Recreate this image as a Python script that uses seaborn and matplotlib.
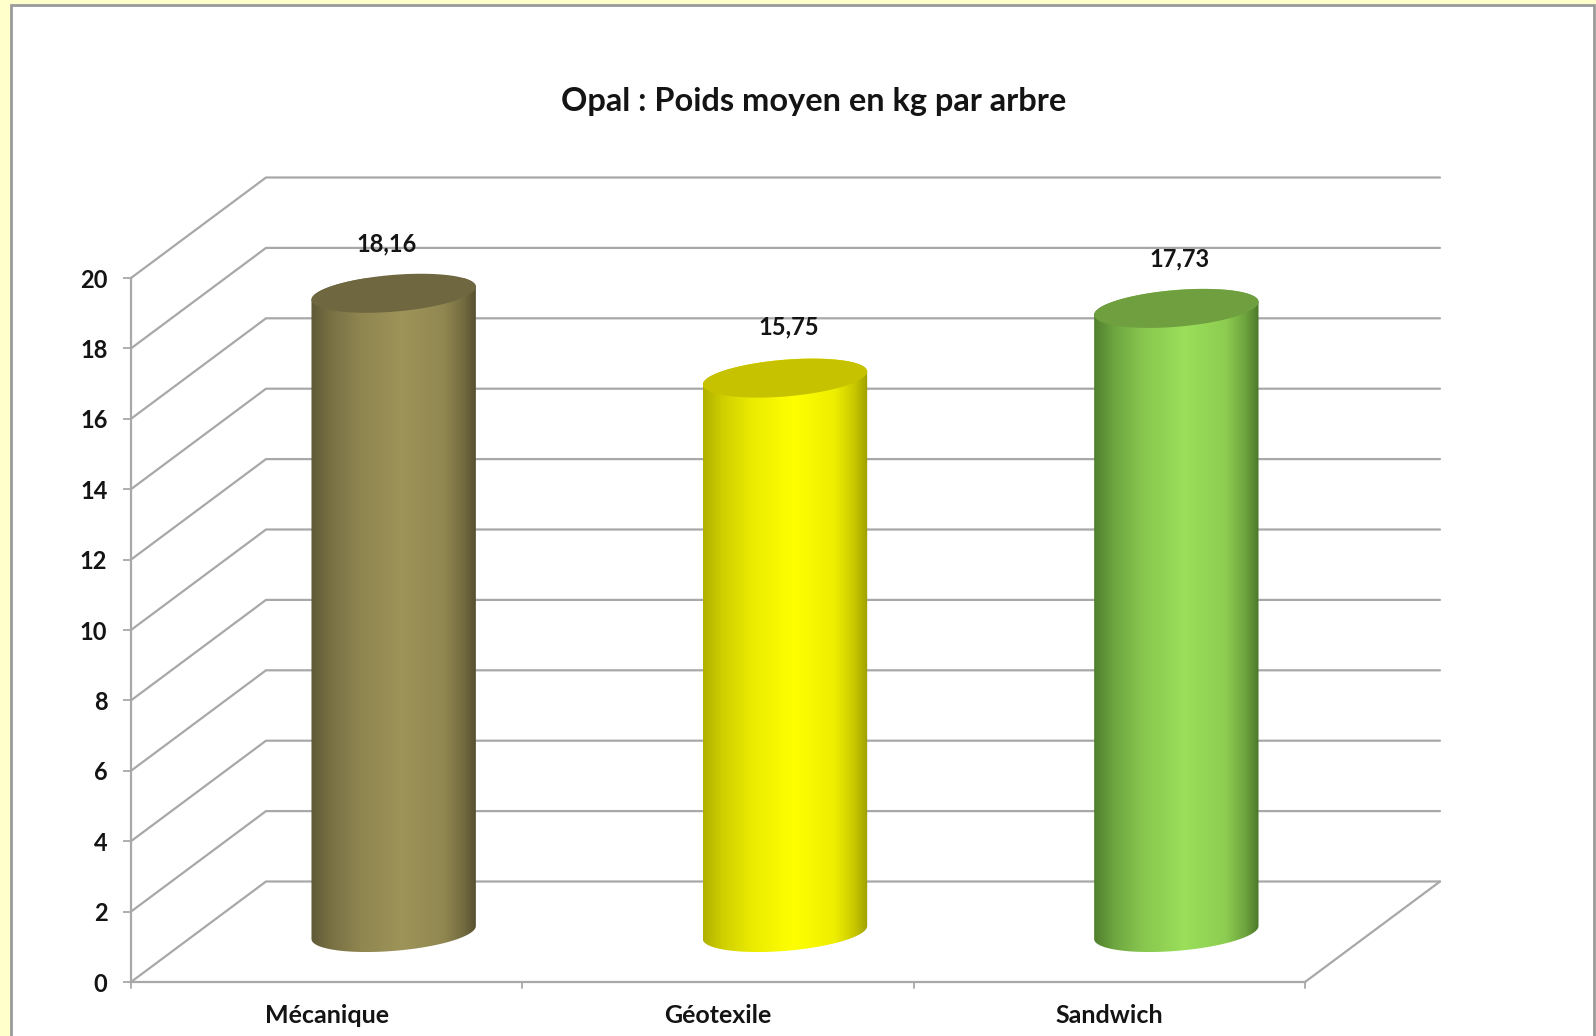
import numpy as np
import pandas as pd
import matplotlib
matplotlib.use('Agg')
import matplotlib.pyplot as plt
from matplotlib.colors import LinearSegmentedColormap, to_rgb
from matplotlib.patches import Polygon, Rectangle
import seaborn as sns

categories = ['Mécanique', 'Géotexile', 'Sandwich']
poids = [18.16, 15.75, 17.73]
labels = ['18,16', '15,75', '17,73']
yticks = [0, 2, 4, 6, 8, 10, 12, 14, 16, 18, 20]
title = 'Opal : Poids moyen en kg par arbre'

# colours of each cylinder: edge left, middle, edge right, top
side_colors = [['#5f5936', '#9e9459', '#57512f'],
               ['#b0b000', '#ffff00', '#a0a000'],
               ['#4f7f2e', '#9bdf5a', '#4c7829']]
top_colors = ['#6e6740', '#c6c200', '#6f9f3f']

W, H = 1596, 1036
X0, X1, Y0, Y20 = 131, 1305, 982, 278   # front plane of the chart, in pixels
DX, DY = 135, 100.5                     # depth of the fake 3D box, in pixels
GREY = '#a8a8a8'
TXT = '#141414'

sns.set_theme(style='white')
plt.rcParams['font.family'] = ['Lato', 'DejaVu Sans']
plt.rcParams['font.weight'] = 'bold'

fig = plt.figure(figsize=(W / 100, H / 100), dpi=100, facecolor='#ffffcc')
fig.add_artist(Rectangle((10.5 / W, -0.01), (1594 - 10.5) / W, (H - 5) / H + 0.01, transform=fig.transFigure,
                         facecolor='white', edgecolor='#9a9a9a', linewidth=2, zorder=-1))

ax = fig.add_axes([X0 / W, 1 - Y0 / H, (X1 - X0) / W, (Y0 - Y20) / H])
ax.patch.set_alpha(0)

df = pd.DataFrame({'categorie': categories, 'poids': poids})
sns.barplot(data=df, x='categorie', y='poids', hue='categorie', palette=[c[1] for c in side_colors],
            width=0.42, legend=False, ax=ax, zorder=3)
ax.set_xlabel('')
ax.set_ylabel('')

# walls and floor
ux = (X1 - X0) / 3
uy = (Y0 - Y20) / 20
dx, dy = DX / ux, DY / uy
for v in yticks:
    ax.plot([-0.5, -0.5 + dx, 2.5 + dx], [v, v + dy, v + dy], color=GREY, lw=1.6,
            clip_on=False, zorder=1)
ax.plot([2.5, 2.5 + dx], [0, dy], color=GREY, lw=1.6, clip_on=False, zorder=1)

for s in ['top', 'right']:
    ax.spines[s].set_visible(False)
for s in ['left', 'bottom']:
    ax.spines[s].set_color(GREY)
    ax.spines[s].set_linewidth(1.6)
    ax.spines[s].set_zorder(2)

ax.set_yticks(yticks)
ax.set_yticklabels([str(v) for v in yticks], fontsize=17, fontweight='bold', color=TXT)
ax.set_xticks([0, 1, 2])
ax.set_xticklabels(categories, fontsize=18, fontweight='bold', color=TXT)
ax.tick_params(axis='y', left=True, length=6, width=1.3, color=GREY, pad=11)
ax.tick_params(axis='x', bottom=False, pad=10)
# the x ticks sit between the categories
for xp in [-0.5, 0.5, 1.5, 2.5]:
    ax.plot([xp, xp], [0, -6 / uy], color=GREY, lw=1.3, clip_on=False, zorder=2)

# turn each bar into a cylinder standing half way in the box
t = np.linspace(0, 2 * np.pi, 181)
tilt, b = 6.5 / uy, 18.4 / uy
stops = [0, 0.12, 0.3, 0.55, 0.8, 0.92, 1]
mix = [0, 0.4, 0.75, 1, 0.82, 0.42, 0]
label_shift = [(-7, 49), (4, 51), (3, 49)]
for i, bar in enumerate(ax.patches):
    cx = bar.get_x() + bar.get_width() / 2 + 67 / ux
    r = bar.get_width() / 2
    base = 49.5 / uy
    top = base + bar.get_height()
    front = np.linspace(np.pi, 2 * np.pi, 91)
    low = np.c_[cx + r * np.cos(front), base + tilt * np.cos(front) + b * np.sin(front)]
    back = np.linspace(0, np.pi, 91)
    upp = np.c_[cx + r * np.cos(back), top + tilt * np.cos(back) + b * np.sin(back)]
    outline = Polygon(np.r_[low, upp], closed=True, transform=ax.transData, facecolor='none', edgecolor='none')
    ax.add_patch(outline)
    bar.set_visible(False)
    left, mid, right = [np.array(to_rgb(c)) for c in side_colors[i]]
    shades = [(s, tuple((left if s < 0.55 else right) * (1 - m) + mid * m)) for s, m in zip(stops, mix)]
    cmap = LinearSegmentedColormap.from_list('cyl', shades)
    img = ax.imshow(np.linspace(0, 1, 256).reshape(1, -1), cmap=cmap, aspect='auto', zorder=4,
                    extent=(cx - r, cx + r, base - 2 * b, top + 2 * b), clip_on=True)
    img.set_clip_path(outline)
    ax.fill(cx + r * np.cos(t), top + tilt * np.cos(t) + b * np.sin(t), color=top_colors[i],
            lw=0, zorder=5, clip_on=False)
    ax.text(cx + label_shift[i][0] / ux, top + label_shift[i][1] / uy, labels[i], ha='center', va='center',
            fontsize=17, fontweight='bold', color=TXT, zorder=6)
ax.set_xlim(-0.5, 2.5)
ax.set_ylim(0, 20)

fig.text(814 / W, 1 - 101 / H, title, ha='center', va='center', fontsize=23.4, fontweight='bold', color=TXT)

fig.savefig('out.png', dpi=100, facecolor=fig.get_facecolor())
